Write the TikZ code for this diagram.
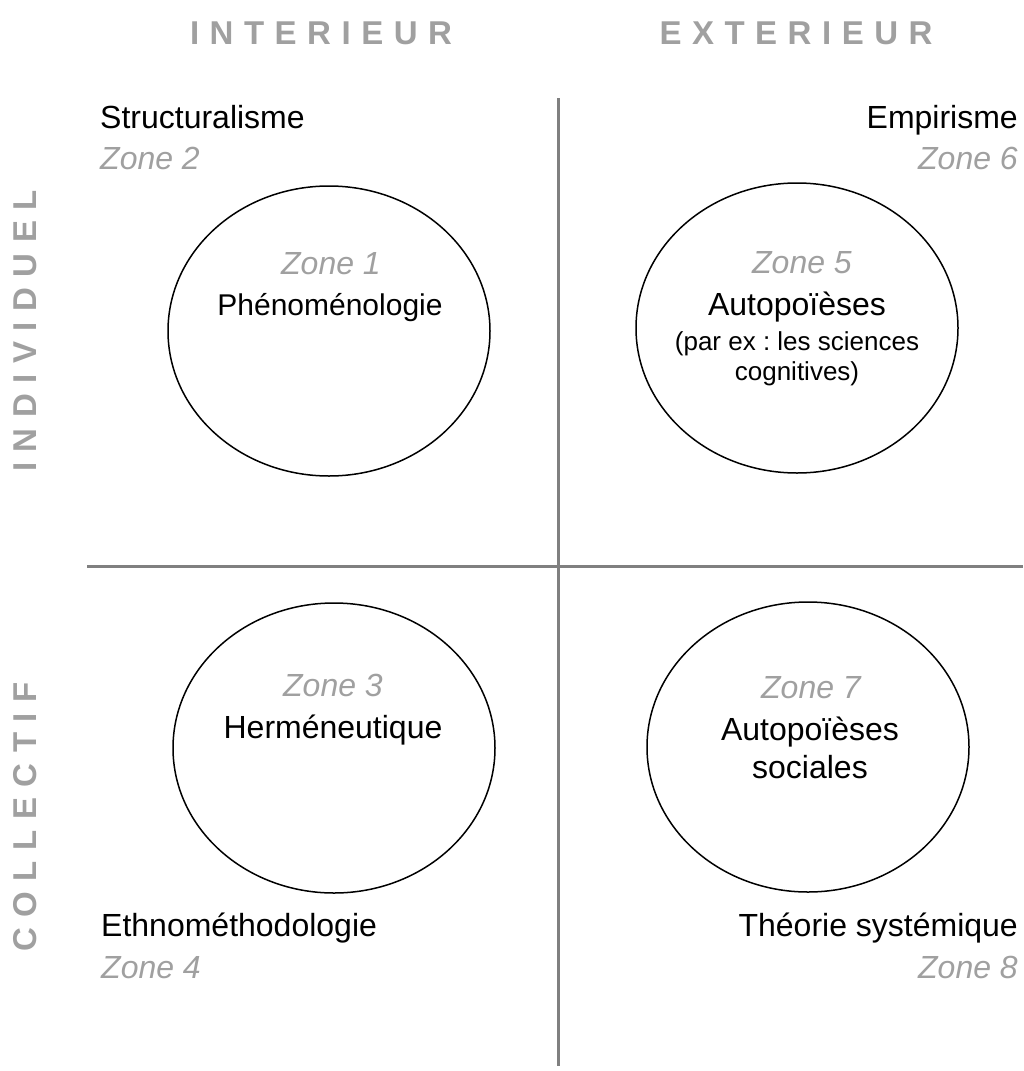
\documentclass[tikz,border=0pt]{standalone}
\usepackage{fontspec}
\setmainfont{Liberation Sans}
\usetikzlibrary{shapes.geometric}
\definecolor{hdrgray}{RGB}{160,160,160}
\definecolor{zonegray}{RGB}{160,160,160}
\definecolor{linegray}{RGB}{128,128,128}
\newcommand\lsp{\kern10.5pt}
\frenchspacing
\begin{document}
\begin{tikzpicture}[x=1pt,y=-1pt,
  hdr/.style={font=\fontsize{33}{33}\selectfont\bfseries, text=hdrgray, inner sep=0pt},
  lbl/.style={font=\fontsize{32}{38}\selectfont, text=black, inner sep=0pt},
  small/.style={font=\fontsize{26}{30}\selectfont, text=black, inner sep=0pt},
  zone/.style={font=\fontsize{32}{38}\selectfont\itshape, text=zonegray, inner sep=0pt},
  oval/.style={draw=black, line width=1.5pt, ellipse, minimum width=322pt, minimum height=290pt, inner sep=0pt},
  axis/.style={draw=linegray, line width=3pt}]
\path[use as bounding box] (0,0) rectangle (1023,1071);
% axes
\coordinate (vtop) at (558,98);
\coordinate (vbot) at (558,1066);
\coordinate (hleft) at (87,566);
\coordinate (hright) at (1023,566);
\draw[axis] (vtop) -- (vbot);
\draw[axis] (hleft) -- (hright);
% headers
\node[hdr] (hint) at (321,33) {I\lsp N\lsp T\lsp E\lsp R\lsp I\lsp E\lsp U\lsp R};
\node[hdr] (hext) at (796,33) {E\lsp X\lsp T\lsp E\lsp R\lsp I\lsp E\lsp U\lsp R};
\node[hdr, rotate=90] (hind) at (25,331) {I\lsp N\lsp D\lsp I\lsp V\lsp I\lsp D\lsp U\lsp E\lsp L};
\node[hdr, rotate=90] (hcol) at (25,817) {C\lsp O\lsp L\lsp L\lsp E\lsp C\lsp T\lsp I\lsp F};
% corner labels
\node[lbl, anchor=base west] (struct) at (100,128) {Structuralisme};
\node[zone, anchor=base west] (z2) at (100,169) {Zone 2};
\node[lbl, anchor=base east] (emp) at (1018,128) {Empirisme};
\node[zone, anchor=base east] (z6) at (1018,169) {Zone 6};
\node[lbl, anchor=base west] (ethno) at (101,936) {Ethnométhodologie};
\node[zone, anchor=base west] (z4) at (101,978) {Zone 4};
\node[lbl, anchor=base east] (theo) at (1018,936) {Théorie systémique};
\node[zone, anchor=base east] (z8) at (1018,978) {Zone 8};
% ellipses
\node[oval] (e1) at (329,331) {};
\node[oval] (e5) at (797,328) {};
\node[oval] (e3) at (334,748) {};
\node[oval] (e7) at (808,747) {};
% ellipse texts
\node[zone, anchor=base] (z1) at (331,274) {Zone 1};
\node[lbl, anchor=base, font=\fontsize{30}{35}\selectfont] (phen) at (330,315) {Phénoménologie};
\node[zone, anchor=base] (z5) at (802,273) {Zone 5};
\node[lbl, anchor=base] (auto1) at (797,315) {Autopoïèses};
\node[small, anchor=base] (parex) at (797,350) {(par ex : les sciences};
\node[small, anchor=base] (cogn) at (797,380) {cognitives)};
\node[zone, anchor=base] (z3) at (333,696) {Zone 3};
\node[lbl, anchor=base] (herm) at (333,738) {Herméneutique};
\node[zone, anchor=base] (z7) at (811,698) {Zone 7};
\node[lbl, anchor=base] (auto2) at (810,740) {Autopoïèses};
\node[lbl, anchor=base] (soc) at (810,778) {sociales};
\end{tikzpicture}
\end{document}
